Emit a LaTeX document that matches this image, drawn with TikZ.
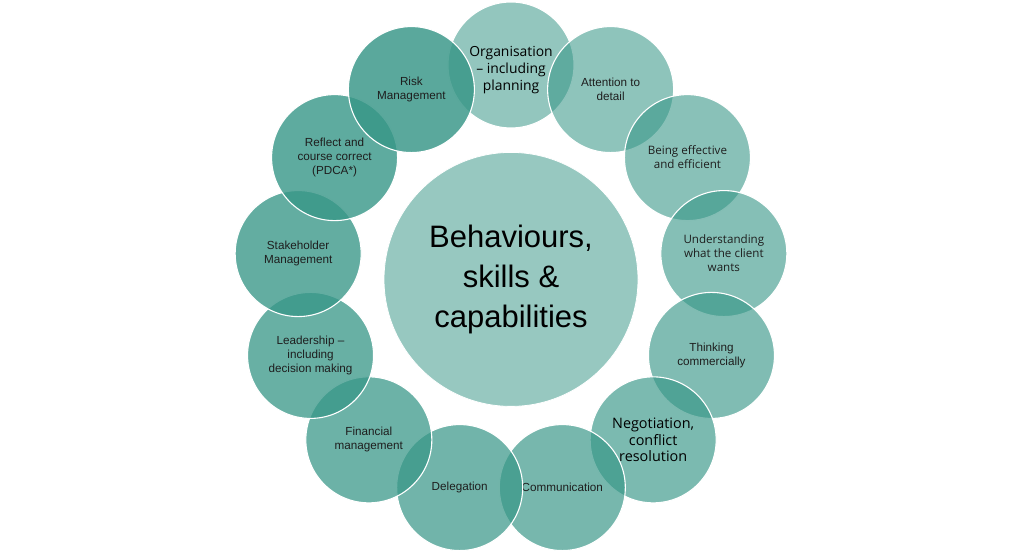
\documentclass[tikz,border=0pt]{standalone}
\usepackage{fontspec}
\setmainfont{Liberation Sans}
\newfontfamily\segoe{Open Sans}
\definecolor{tealbase}{RGB}{55,150,135}
\definecolor{txt}{RGB}{30,30,30}
\begin{document}
\begin{tikzpicture}[x=1pt,y=-1pt,
  bubble/.style={circle, minimum size=126pt, inner sep=0pt, fill=tealbase,
    draw=white, line width=1.1pt, draw opacity=1, text opacity=1, text=txt, align=center,
    font=\fontsize{11.7}{13.8}\selectfont},
  big/.style={font=\segoe\fontsize{14.4}{16.9}\selectfont},
  mid/.style={font=\segoe\fontsize{11.6}{14}\selectfont},
  hub/.style={circle, minimum size=254pt, inner sep=0pt, fill=tealbase, fill opacity=0.52,
    draw=white, line width=0.8pt, draw opacity=1, text opacity=1, text=black, align=center,
    font=\fontsize{31}{40}\selectfont}
]
\useasboundingbox (0,0) rectangle (1023,553);
\coordinate (ctr) at (511,279.4);
\node[hub] (hub) at (ctr) {Behaviours,\\skills \&\\capabilities};
\node[bubble, fill opacity=0.54, text=black] (n0) at ([shift={(-90:214.4)}]ctr) {};
\node[font=\segoe\fontsize{13.9}{17}\selectfont, align=center, text=black] (t0) at ([yshift=-5pt]n0.center) {Organisation\\– including\\planning};
\node[bubble, fill opacity=0.564] (n1) at ([shift={(-62.31:214.4)}]ctr) {Attention to\\detail};
\node[bubble, mid, fill opacity=0.588] (n2) at ([shift={(-34.62:214.4)}]ctr) {Being effective\\and efficient};
\node[bubble, mid, fill opacity=0.612] (n3) at ([shift={(-6.92:214.4)}]ctr) {Understanding\\what the client\\wants};
\node[bubble, fill opacity=0.636] (n4) at ([shift={(20.77:214.4)}]ctr) {Thinking\\commercially};
\node[bubble, big, fill opacity=0.66, text=black] (n5) at ([shift={(48.46:214.4)}]ctr) {Negotiation,\\conflict\\resolution};
\node[bubble, fill opacity=0.684] (n6) at ([shift={(76.15:214.4)}]ctr) {Communication};
\node[bubble, fill opacity=0.708] (n7) at ([shift={(103.85:214.4)}]ctr) {Delegation};
\node[bubble, fill opacity=0.732] (n8) at ([shift={(131.54:214.4)}]ctr) {Financial\\management};
\node[bubble, fill opacity=0.756] (n9) at ([shift={(159.23:214.4)}]ctr) {Leadership –\\including\\decision making};
\node[bubble, fill opacity=0.78] (n10) at ([shift={(186.92:214.4)}]ctr) {Stakeholder\\Management};
\node[bubble, fill opacity=0.804] (n11) at ([shift={(214.62:214.4)}]ctr) {Reflect and\\course correct\\(PDCA*)};
\node[bubble, fill opacity=0.828] (n12) at ([shift={(242.31:214.4)}]ctr) {Risk\\Management};
\end{tikzpicture}
\end{document}
